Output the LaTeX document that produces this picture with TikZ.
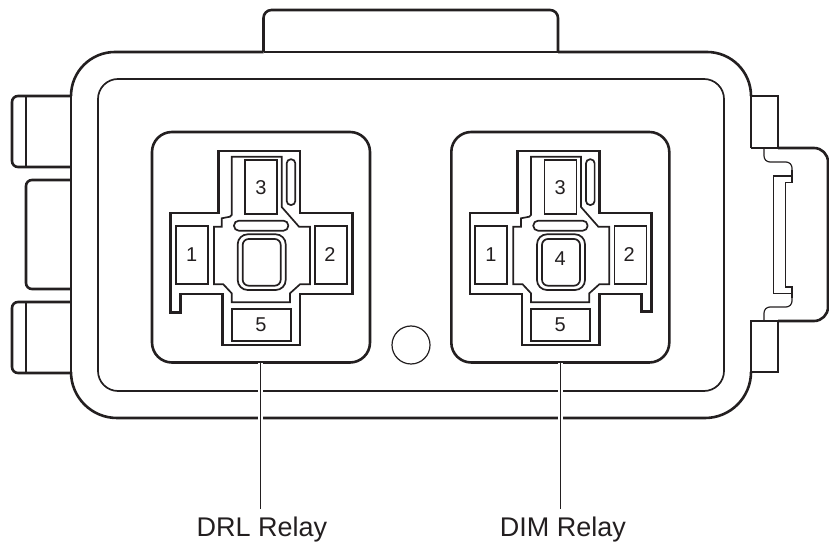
\documentclass[tikz,border=0pt]{standalone}
\usepackage{fontspec}
\setmainfont{Liberation Sans}
\definecolor{ink}{HTML}{231F20}

\begin{document}
\begin{tikzpicture}[
    x=0.5pt, y=-0.5pt,
    ink,
    heavy/.style={draw=ink, line width=1.3pt},
    medium/.style={draw=ink, line width=0.85pt},
    fine/.style={draw=ink, line width=0.6pt},
    leader/.style={draw=ink, line width=0.5pt, preaction={draw=white, line width=2.6pt}},
    pinlabel/.style={font=\fontsize{10}{12}\selectfont, inner sep=0pt},
    relaylabel/.style={font=\fontsize{13.5}{16}\selectfont, inner sep=4pt, anchor=base}
]
    \useasboundingbox (0,0) rectangle (829,544);

    % --- 1. Housing ---
    % top edge, corners and top tab
    \draw[heavy] (71,96) [rounded corners=22pt] -- (71,52) -- (263.5,52) [sharp corners]
        (558,52) [rounded corners=22pt] -- (751,52) -- (751,96);
    \draw[heavy, rounded corners=4pt] (263.5,52) -- (263.5,10) -- (558,10) -- (558,52);
    \draw[fine] (263.5,52) -- (558,52);
    % bottom edge
    \draw[heavy, rounded corners=23pt] (71,373) -- (71,418) -- (751,418) -- (751,372);
    % inner wall
    \draw[medium, rounded corners=10pt] (98,79) rectangle (724,391);

    % --- 2. Left side tabs ---
    \draw[fine] (71,96) -- (71,373);
    \draw[heavy, rounded corners=3pt] (71,96) -- (12,96) -- (12,167) -- (71,167);
    \draw[fine] (26,96) -- (26,167);
    \draw[heavy, rounded corners=3pt] (71,180) -- (26,180) -- (26,289) -- (71,289);
    \draw[heavy] (71,289) -- (71,302);
    \draw[heavy, rounded corners=3pt] (71,302) -- (12,302) -- (12,373) -- (71,373);
    \draw[fine] (26,302) -- (26,373);

    % --- 3. Right side tabs and clip ---
    \draw[heavy] (751,148) -- (751,96) -- (778,96) -- (778,148);
    \draw[fine] (751,148) -- (778,148);
    \draw[heavy] (751,372) -- (751,321) -- (778,321) -- (778,372) -- cycle;
    \draw[heavy, rounded corners=7pt] (778,148) -- (828,148) -- (828,321) -- (778,321);
    \draw[fine, rounded corners=3pt] (764,148) -- (764,162) -- (792,162) -- (792,170);
    \draw[fine] (792,170) -- (792,182.5) -- (785.5,182.5) -- (785.5,287) -- (792,287) -- (792,298);
    \draw[fine, rounded corners=3pt] (792,298) -- (792,307) -- (764,307) -- (764,321);
    \draw[medium] (792,176) -- (773.5,176) -- (773.5,293.5) -- (792,293.5);

    % --- 4. Relay socket ---
    % #1: x offset, #2: name prefix, #3: 0 = foot on the left, 1 = foot on the right
    \newcommand{\drawRelay}[3]{
        \draw[heavy, rounded corners=10pt] (#1+152,132) rectangle (#1+370,362.5);

        % cross outline
        \ifnum#3=0
            \draw[heavy] (#1+218.3,151) -- (#1+300,151) -- (#1+300,213) -- (#1+352.3,213)
                -- (#1+352.3,294) -- (#1+300,294) -- (#1+300,345) -- (#1+222.7,345)
                -- (#1+222.7,294) -- (#1+180.7,294) -- (#1+180.7,312.3) -- (#1+170.7,312.3)
                -- (#1+170.7,213) -- (#1+218.3,213) -- cycle;
        \else
            \draw[heavy] (#1+218.3,151) -- (#1+300,151) -- (#1+300,213) -- (#1+352.3,213)
                -- (#1+352.3,311.7) -- (#1+342.4,311.7) -- (#1+342.4,294) -- (#1+300,294)
                -- (#1+300,345) -- (#1+222.7,345) -- (#1+222.7,294) -- (#1+170.7,294)
                -- (#1+170.7,213) -- (#1+218.3,213) -- cycle;
        \fi

        % inner outline
        \draw[medium] (#1+231.7,156.7) -- (#1+281.7,156.7) -- (#1+281.7,207) -- (#1+299,226.7)
            -- (#1+310,226.7) -- (#1+310,284.3) -- (#1+300,284.3) -- (#1+290,293.3)
            -- (#1+290,302.3) -- (#1+231.7,302.3) -- (#1+231.7,293.3) -- (#1+223.3,284.3)
            -- (#1+214,284.3) -- (#1+214,226.7) -- (#1+221.7,226.7) -- (#1+221.7,218.3)
            -- (#1+230,216.7) -- (#1+231.7,215) -- cycle;

        % pins
        \draw[medium] (#1+175.7,226) rectangle (#1+207.7,284.3);
        \draw[medium] (#1+315.3,226) rectangle (#1+347.3,284.3);
        \draw[medium] (#1+245.3,160) rectangle (#1+277.3,214.3);
        \draw[medium] (#1+231.7,309) rectangle (#1+291,341);
        \node[pinlabel] (#2one) at (#1+191.7,255) {1};
        \node[pinlabel] (#2two) at (#1+330,255) {2};
        \node[pinlabel] (#2three) at (#1+261,188) {3};
        \node[pinlabel] (#2five) at (#1+261,325) {5};

        % slots and centre pin
        \draw[medium, rounded corners=2pt] (#1+286.7,159.3) rectangle (#1+295.3,205);
        \draw[medium, rounded corners=2.4pt] (#1+234,220.7) rectangle (#1+288.3,230.7);
        \draw[medium, rounded corners=5pt] (#1+237.7,234.3) rectangle (#1+285.7,290);
        \draw[medium, rounded corners=3pt] (#1+242.7,239) rectangle (#1+280.7,285.7);
    }

    \drawRelay{0}{drl}{0}
    \drawRelay{299.3}{dim}{1}
    \node[pinlabel] (dimfour) at (560.3,258.5) {4};

    % mounting hole
    \draw[fine] (411,345) circle (9.5pt);

    % --- 5. Labels and leaders ---
    \coordinate (drlroot) at (260.3,363);
    \coordinate (dimroot) at (560.3,363);
    \node[relaylabel] (drllabel) at (262,536.7) {DRL Relay};
    \node[relaylabel] (dimlabel) at (563,536.7) {DIM Relay};
    \draw[leader] (drlroot) -- (drlroot |- drllabel.north);
    \draw[leader] (dimroot) -- (dimroot |- dimlabel.north);
\end{tikzpicture}
\end{document}
